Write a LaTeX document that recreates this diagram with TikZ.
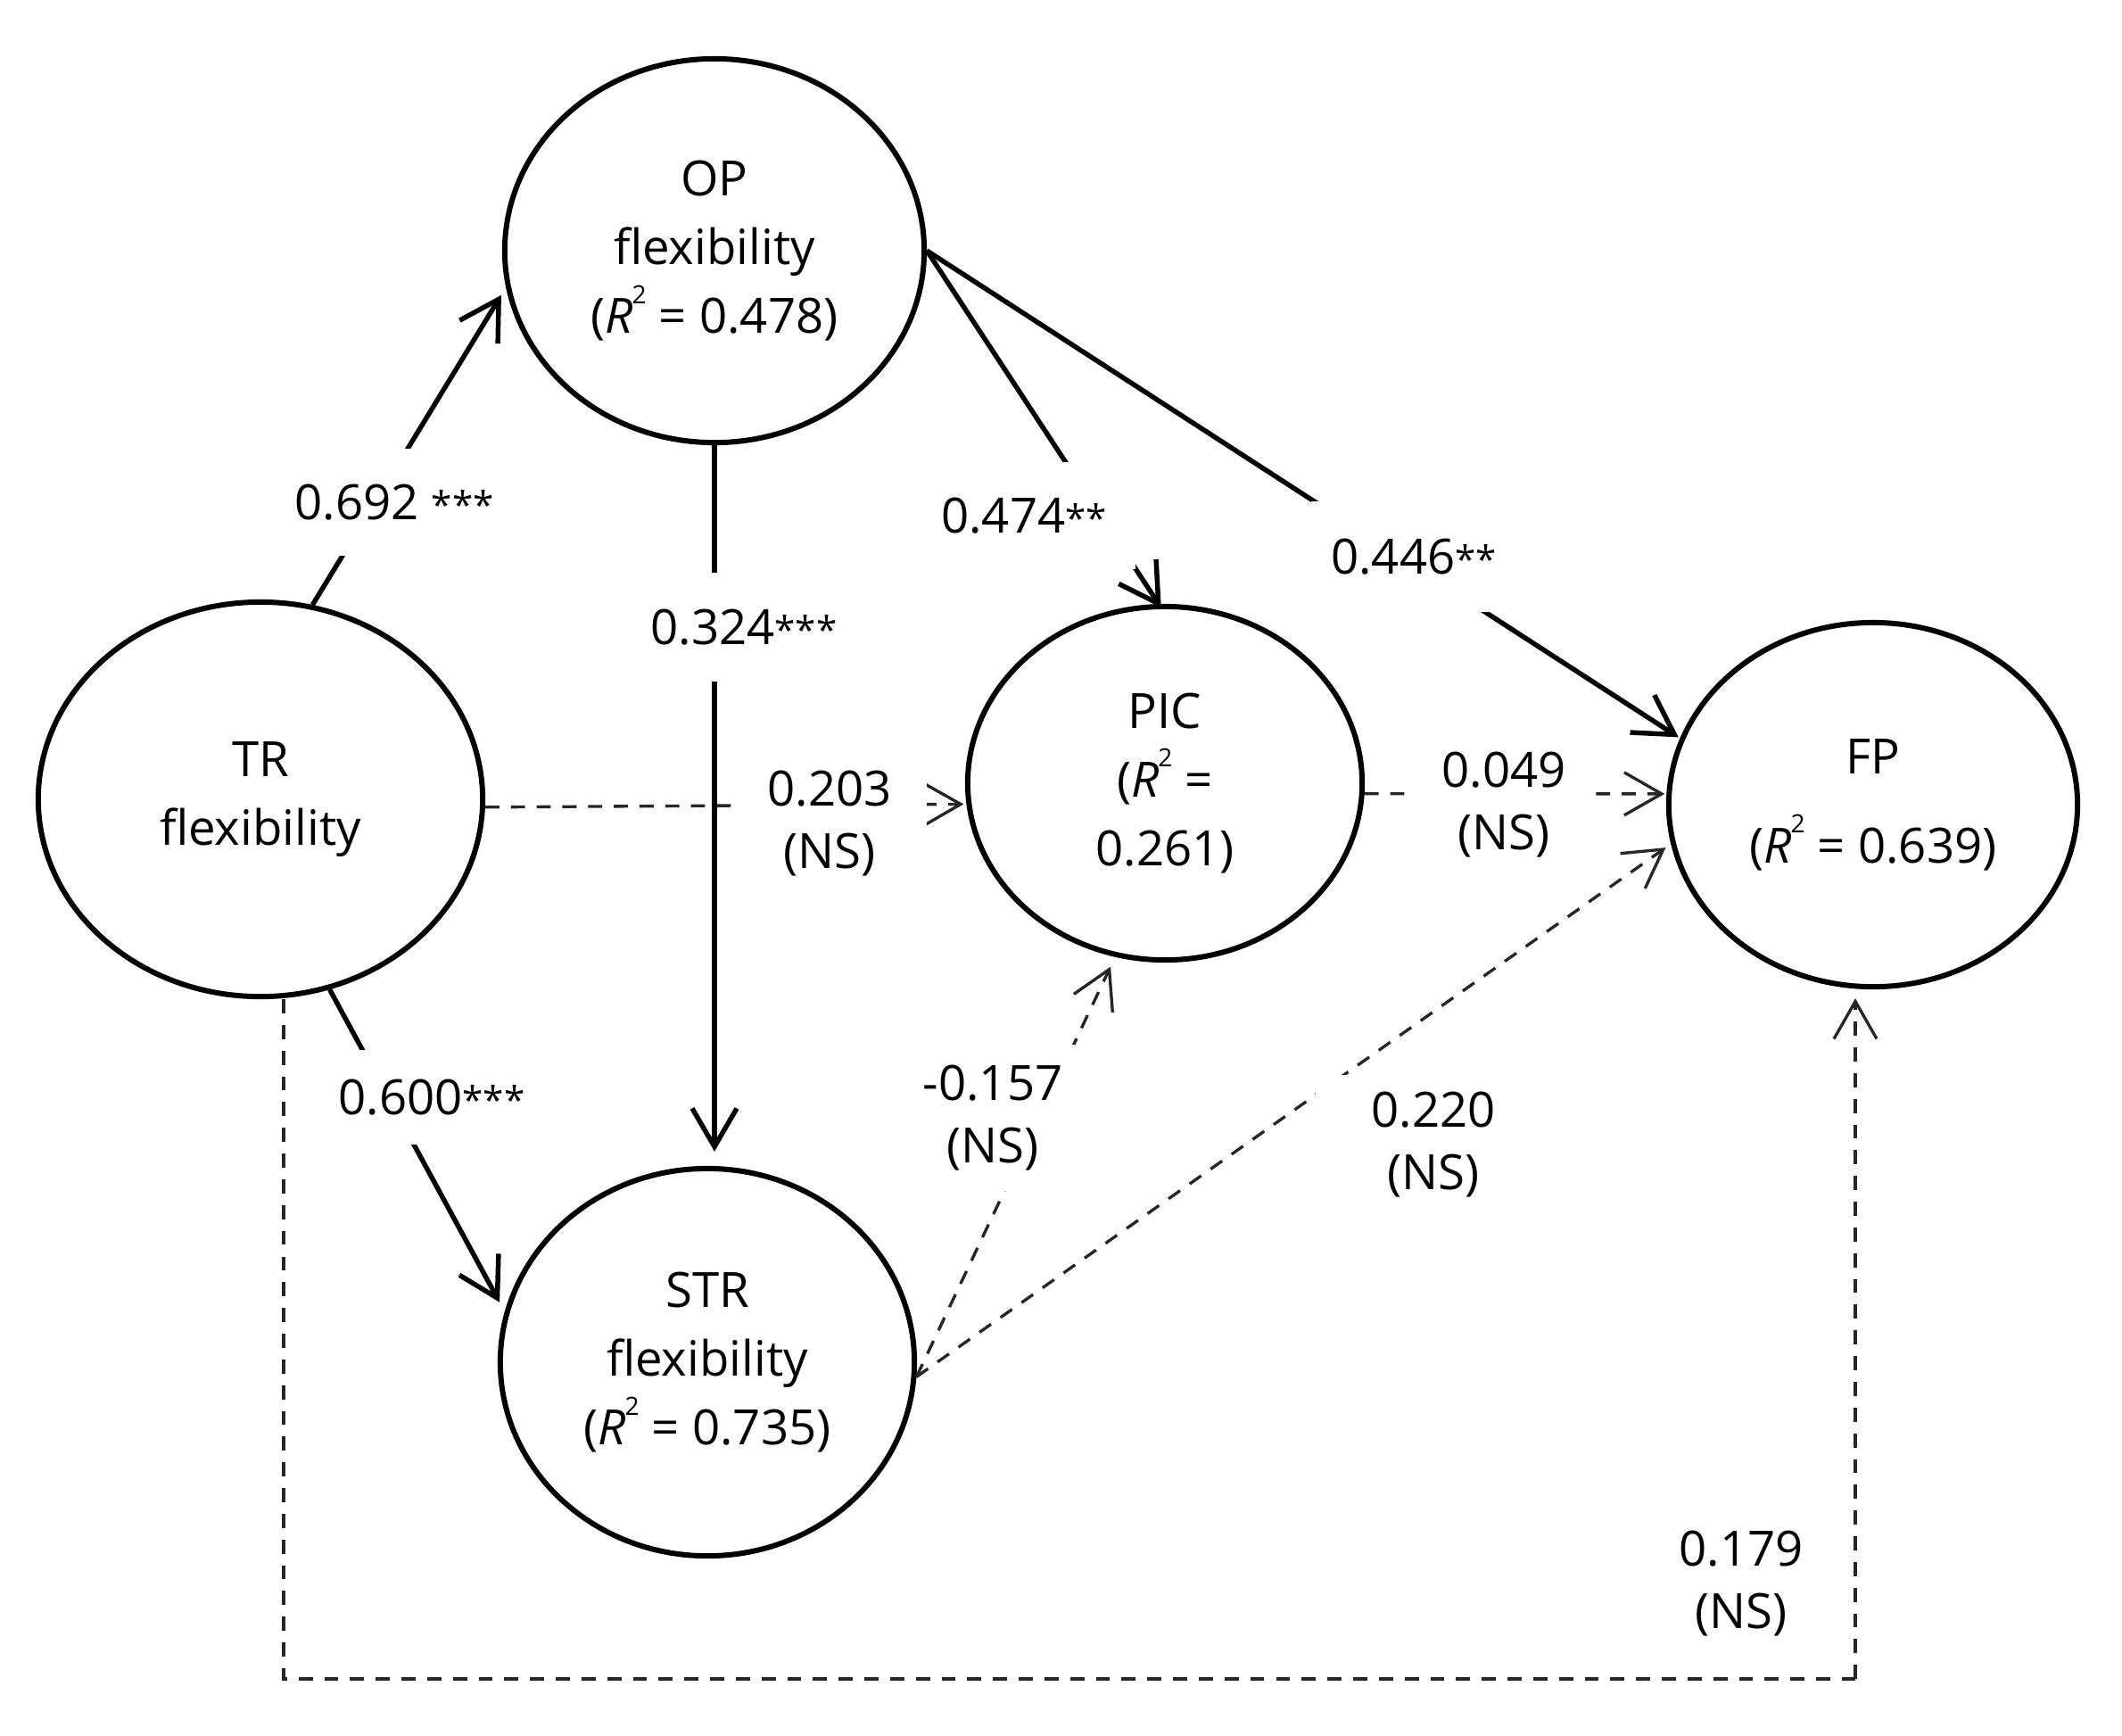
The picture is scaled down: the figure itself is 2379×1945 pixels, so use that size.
\documentclass[tikz,border=0pt]{standalone}
\usepackage{fontspec}
\setmainfont{Open Sans}
\usetikzlibrary{shapes.geometric,arrows.meta}
\newcommand\Rsq{\textit{R}\kern-0.02em\raisebox{0.62em}{\fontsize{8}{8}\selectfont 2}}
\newcommand\sigst[1]{\raisebox{0.02em}{\fontsize{12}{12}\selectfont #1}}
\begin{document}
\begin{tikzpicture}[x=0.01cm,y=-0.01cm,
  font=\fontsize{15.5}{22}\selectfont,
  ell/.style={ellipse, draw, line width=1.7pt, inner sep=0pt, align=center},
  sarrow/.style={line width=1.55pt, -{Straight Barb[length=0.43cm,width=0.5cm]}},
  darrow/.style={line width=0.95pt, draw=black!85, dash pattern=on 4.5pt off 3.7pt,
    -{Straight Barb[length=0.42cm,width=0.48cm]}},
  dline/.style={line width=0.95pt, draw=black!85, dash pattern=on 4.5pt off 3.7pt},
  lbl/.style={font=\fontsize{15.5}{20}\selectfont, align=center, inner sep=0pt, fill=white},
  lblb/.style={font=\fontsize{15.5}{20}\selectfont, align=center, inner sep=0pt}
]
\useasboundingbox (0,0) rectangle (2379,1945);
\fill[white] (0,0) rectangle (2379,1945);

% constructs
\node[ell, minimum width=4.70cm, minimum height=4.30cm] (OP) at (801,281)
  {OP\\flexibility\\(\Rsq{} = 0.478)};
\node[ell, minimum width=4.98cm, minimum height=4.42cm] (TR) at (292,896)
  {TR\\flexibility};
\node[ell, minimum width=4.42cm, minimum height=3.96cm] (PIC) at (1306,878)
  {PIC\\(\Rsq{} =\\0.261)};
\node[ell, minimum width=4.58cm, minimum height=4.08cm] (FP) at (2100,902)
  {FP\\[6.5pt](\Rsq{} = 0.639)};
\node[ell, minimum width=4.64cm, minimum height=4.34cm] (STR) at (793,1527)
  {STR\\flexibility\\(\Rsq{} = 0.735)};

\coordinate (bl) at (318,1882);
\coordinate (br) at (2080,1882);

% non-significant paths
\draw[darrow, shorten >=0.03cm] (TR.-2) -- (PIC.186);
\draw[darrow, shorten >=0.02cm] (PIC.-3) -- (FP.177);
\draw[darrow, shorten >=0.12cm] (STR.-4) -- (PIC.254.6);
\draw[darrow, shorten >=0.07cm] (STR.-4) -- (FP.191.8);
\draw[dline] (TR.south -| bl) -- (bl) -- (br);
\draw[darrow, shorten >=0.10cm] (br) -- (FP.south -| br);

% significant paths
\draw[sarrow, shorten >=0.10cm] (TR.75.7) -- (OP.190);
\draw[sarrow, shorten >=0.16cm] (OP.south) -- (OP.south |- STR.north);
\draw[sarrow, shorten >=-0.05cm] (OP.east) -- (PIC.92.5);
\draw[sarrow, shorten >=0.02cm] (OP.east) -- (FP.161.6);
\draw[sarrow, shorten >=0.12cm] (TR.-70.9) -- (STR.166);

% labels
\node[lbl, minimum width=2.45cm, minimum height=1.20cm] (l1) at (442,563) {0.692 \sigst{***}};
\node[lbl, minimum height=1.22cm] (l2) at (834,703) {0.324\sigst{***}};
\node[lbl, minimum width=2.50cm, minimum height=1.20cm] (l3) at (1148,578) {0.474\sigst{**}};
\node[lbl, minimum width=2.30cm, minimum height=1.24cm] (l4) at (1585,624) {0.446\sigst{**}};
\node[lbl, minimum width=2.18cm] (l5) at (930,923) {0.203\\(NS)};
\node[lbl, minimum width=2.03cm] (l6) at (1686,902) {0.049\\(NS)};
\node[lbl, minimum width=1.84cm, minimum height=1.64cm] (l7) at (1113,1253) {-0.157\\(NS)};
\node[lbl, minimum width=2.64cm, minimum height=1.56cm] (l8) at (1607,1283) {0.220\\(NS)};
\node[lblb] (l9) at (1952,1775) {0.179\\(NS)};
\node[lbl, minimum width=2.20cm, minimum height=1.06cm] (l10) at (484,1230) {0.600\sigst{***}};
\end{tikzpicture}
\end{document}
